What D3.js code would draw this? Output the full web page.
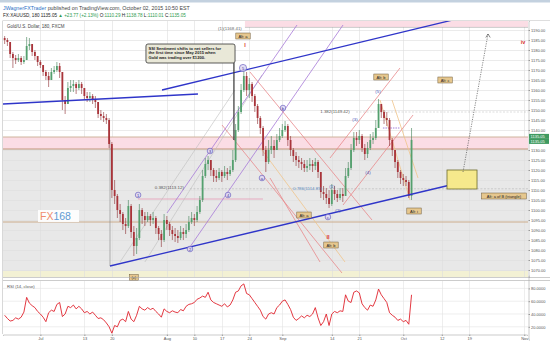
<!DOCTYPE html>
<html>
<head>
<meta charset="utf-8">
<script src="https://cdn.jsdelivr.net/npm/d3@7"></script>
<style>
body { margin: 0; background: #fff; }
svg { display: block; font-family: "Liberation Sans", Arial, sans-serif; }
</style>
</head>
<body>
<div id="chart"></div>
<script>
// 12h candles, first one at day -6.5 (trading days, Jul 1 = 0)
var firstDay = -6.5, step = 0.5;

var closes = [1185,1184,1178,1176,1175,1176,1174,1175,1182,1183,
  1179,1177,1174,1172.5,1169,1167,1165,1169,1170,1172,
  1169,1155,1153,1161,1162,1163,1161,1163,1161,1157,
  1156,1157,1155,1154,1148,1147,1146,1145,1133,1110,
  1107,1100,1098,1093,1092,1102,1089,1082,1086,1100,
  1097,1095,1097,1095,1096,1091,1088,1085,1095,1093,
  1090,1088,1087,1086,1089,1088,1090,1094,1096,1095,
  1099,1105,1117,1123,1125,1120,1117,1116,1119,1117,
  1119,1118,1120,1125,1140,1149,1160,1167,1160,1163,
  1157,1152,1146,1141,1130,1124,1130,1132,1130,1135,
  1137,1140,1142,1135,1130,1127,1125,1124,1123,1121,
  1122,1123,1122,1124,1119,1109,1108,1106,1103,1110,
  1108,1106,1108,1107,1117,1121,1130,1136,1135,1137,
  1131,1128,1131,1135,1136,1141,1153,1149,1146,1145,
  1135,1130,1124,1119,1116,1115,1114,1107,1135.05];

var highs = [1187,1186,1181,1179,1177.5,1178,1177,1177,1186.5,1186,
  1182,1180,1177,1175,1172,1170,1169,1171,1172,1174,
  1173.5,1167,1157,1164,1165,1165,1164,1165,1164,1161,
  1159,1159,1158,1157,1153,1150,1149,1148,1146,1134,
  1115,1108,1103,1099,1096,1105,1103,1092,1091,1103,
  1101,1099,1099,1098,1099,1097,1092,1090,1098,1097,
  1094,1092,1091,1090,1092,1091,1093,1097,1099,1098,
  1102,1107,1120,1126,1127,1125,1121,1120,1121,1120,
  1122,1121,1122,1130,1143,1152,1163,1170,1169,1166,
  1164,1158,1153,1147,1142,1132,1135,1137,1135,1138,
  1141,1143,1144.5,1143,1137,1131,1129,1127,1126,1125,
  1125,1126,1125,1126,1125,1119,1112,1111,1110,1113,
  1112,1110,1111,1111,1121,1124,1133,1139,1139,1140,
  1138,1133,1134,1138,1139,1145,1155.5,1153,1150,1149,
  1146,1136,1130,1125,1120,1118,1117,1115,1141];

var lows = [1183,1182,1176,1171,1173,1174,1172.5,1173,1175,1180,
  1177,1175,1172,1171,1167,1165,1161.5,1166,1168,1169,
  1166,1150,1148,1155,1159,1159,1158,1160,1158,1155,
  1154,1154,1153,1151,1146,1145,1144,1143,1131,1106,
  1103,1096,1094,1090,1088,1091,1086,1077,1078,1085,
  1093,1092,1094,1092,1093,1088,1085,1081.5,1084,1090,
  1087,1085,1084,1083.5,1085,1085,1086,1089,1093,1092,
  1094,1098,1104,1116,1120,1117,1114,1114,1115,1114,
  1116,1115,1117,1119,1124,1139,1148,1159,1157,1156,
  1154,1149,1143,1138,1127,1119,1123,1128,1126,1130,
  1134,1136,1139,1132,1127,1124,1122,1121,1120,1119,
  1119,1120,1119,1120,1116,1106,1105,1103,1101,1102,
  1105,1104,1105,1104,1107,1116,1120,1129,1132,1133,
  1129,1125,1126,1130,1133,1135,1141,1146,1143,1142,
  1132,1127,1121,1116,1113,1112,1112,1106,1105];

var rsi = [38,33,29,30,34,32,35,43,66,57,
  53,50,44,40,35,28,42,46,44,55,
  58,36,40,52,50,54,48,52,48,42,
  44,40,43,38,33,34,31,26,20,10,
  22,20,30,32,28,44,32,28,38,52,
  48,46,50,47,49,44,40,35,48,44,
  42,45,43,42,47,45,52,55,56,58,
  63,65,68,66,74,62,58,56,54,52,
  56,51,54,62,74,76,84,87,72,70,
  64,58,52,46,36,32,40,42,40,50,
  54,60,62,55,47,35,30,33,37,34,
  38,36,40,50,34,22,28,40,22,40,
  44,42,45,44,70,60,58,74,76,73,
  56,50,46,54,52,62,79,70,64,58,
  42,38,35,30,32,28,30,24,70];

var priceTicks = d3.range(1070, 1191, 5);
var timeDays = [0, 8, 13, 23, 28, 33, 38, 44, 53, 58, 66, 73, 78, 88];
var timeLabels = ['Jul', '13', '20', 'Aug', '10', '17', '24', 'Sep', '14', '21', 'Oct', '12', '19', 'Nov'];
var rsiTicks = [20, 40, 60, 80];

// drawings, as [day, price] pairs
var blueLines = [
  [[-6.8, 1153], [28.66, 1158]],
  [[22.12, 1160], [81.78, 1199.5]],
  [[12.66, 1072], [77.59, 1114.5]]
];
var purpleLines = [
  [[23.03, 1098.5], [46.67, 1192.5]],
  [[27.2, 1081.5], [55.04, 1192.5]]
];
var grayLines = [
  [[14.48, 1074], [35.39, 1160]],
  [[19.0, 1074], [40.3, 1167.5]]
];
var salmonLines = [
  [[38.12, 1169], [60.31, 1095]],
  [[33.03, 1142.5], [54.85, 1068.5]],
  [[41.76, 1116], [50.86, 1074]],
  [[52.67, 1126], [65.4, 1171]],
  [[55.04, 1102.5], [67.77, 1147.5]]
];
var tanLines = [
  [[61.77, 1155], [67.22, 1105]],
  [[63.95, 1155], [68.68, 1116]],
  [[40.31, 1130], [55.4, 1074]]
];
var waveCircles = [
  {d: 17.77, p: 1107.5, t: '1'}, {d: 27.21, p: 1080.5, t: '2'},
  {d: 30.85, p: 1129.5, t: '3'}, {d: 34.12, p: 1107.5, t: '4'},
  {d: 36.85, p: 1171, t: '5'}, {d: 40.3, p: 1116, t: 'a'},
  {d: 44.12, p: 1151, t: 'b'}, {d: 52.3, p: 1096.5, t: 'c'}
];
var waveTexts = [
  {d: 53.03, p: 1112, t: '(1)'}, {d: 54.12, p: 1100, t: '(2)'},
  {d: 57.22, p: 1145.5, t: '(3)'}, {d: 59.58, p: 1119, t: '(4)'},
  {d: 61.4, p: 1159.5, t: '(5)'}
];
var tags = [
  {d: 36.85, p: 1187, t: 'Alt: a'}, {d: 61.95, p: 1166.5, t: 'Alt: b'},
  {d: 73.6, p: 1165, t: 'Alt: c'}, {d: 84.3, p: 1107, t: 'Alt: a of B (triangle)'},
  {d: 67.95, p: 1099.5, t: 'Alt: i'}, {d: 47.94, p: 1097.5, t: 'Alt: a'},
  {d: 52.85, p: 1082.5, t: 'Alt: b'}, {d: 17.0, p: 1066.2, t: '(v)'}
];
var romans = [
  {d: 37.2, p: 1182.5, t: 'I'}, {d: 52.3, p: 1086.5, t: 'II'}, {d: 87.77, p: 1184, t: 'iv'}
];

var width = 550, height = 344;
var pane = {left: 3, right: 528, top: 21, bottom: 277};
var rsiPane = {top: 281, bottom: 334};

var svg = d3.select('#chart').append('svg')
  .attr('width', width)
  .attr('height', height);

var x = d3.scaleLinear().domain([-6.8, 88.5]).range([3, 527]);
var y = d3.scaleLinear().domain([1066.5, 1194.5]).range([277, 21]);
var yR = d3.scaleLinear().domain([0, 100]).range([339.6, 275.6]);

svg.append('rect').attr('width', width).attr('height', height).attr('fill', '#fff');
svg.append('rect').attr('width', width).attr('height', 2.5).attr('fill', '#c3d1df');

// clip paths
var defs = svg.append('defs');
defs.append('clipPath').attr('id', 'clipMain').append('rect')
  .attr('x', pane.left).attr('y', pane.top)
  .attr('width', pane.right - pane.left).attr('height', pane.bottom - pane.top);
defs.append('clipPath').attr('id', 'clipRsi').append('rect')
  .attr('x', pane.left).attr('y', rsiPane.top)
  .attr('width', pane.right - pane.left).attr('height', rsiPane.bottom - rsiPane.top);

var main = svg.append('g').attr('clip-path', 'url(#clipMain)');

// zones
main.append('rect')
  .attr('x', pane.left).attr('width', pane.right - pane.left)
  .attr('y', y(1130.5)).attr('height', pane.bottom - y(1130.5))
  .attr('fill', '#e8e8e8');
main.append('rect')
  .attr('x', pane.left).attr('width', pane.right - pane.left)
  .attr('y', y(1069.5)).attr('height', pane.bottom - y(1069.5))
  .attr('fill', '#f3f1d4');

// grid
main.selectAll('.hgrid').data(priceTicks).enter().append('line')
  .attr('class', 'hgrid')
  .attr('x1', pane.left).attr('x2', pane.right)
  .attr('y1', function (d) { return Math.round(y(d)) + 0.5; })
  .attr('y2', function (d) { return Math.round(y(d)) + 0.5; })
  .attr('stroke', '#dedede').attr('stroke-width', 0.6);
main.selectAll('.vgrid').data(timeDays).enter().append('line')
  .attr('class', 'vgrid')
  .attr('x1', function (d) { return Math.round(x(d)) + 0.5; })
  .attr('x2', function (d) { return Math.round(x(d)) + 0.5; })
  .attr('y1', pane.top).attr('y2', pane.bottom)
  .attr('stroke', '#dedede').attr('stroke-width', 0.6);

main.append('rect')
  .attr('x', pane.left).attr('width', pane.right - pane.left)
  .attr('y', y(1136.5)).attr('height', y(1130.5) - y(1136.5))
  .attr('fill', '#fbdde5');
main.append('rect')
  .attr('x', x(37.2)).attr('width', pane.right - x(37.2))
  .attr('y', pane.top).attr('height', y(1191.5) - pane.top)
  .attr('fill', '#fbdde5');

// horizontal levels
[[1136.5, '#c9ad92'], [1130.5, '#b98c6c'], [1094, '#c9a784']].forEach(function (l) {
  main.append('line')
    .attr('x1', pane.left).attr('x2', pane.right)
    .attr('y1', y(l[0])).attr('y2', y(l[0]))
    .attr('stroke', l[1]).attr('stroke-width', 0.9);
});
main.append('line')
  .attr('x1', x(37.2)).attr('x2', pane.right)
  .attr('y1', y(1191.3)).attr('y2', y(1191.3))
  .attr('stroke', '#999').attr('stroke-width', 0.5);

// fib levels
main.append('line')
  .attr('x1', x(17.75)).attr('x2', x(40.48))
  .attr('y1', y(1105.5)).attr('y2', y(1105.5))
  .attr('stroke', '#e68fb0').attr('stroke-width', 0.7);
main.append('line')
  .attr('x1', x(27.2)).attr('x2', pane.right)
  .attr('y1', y(1110.6)).attr('y2', y(1110.6))
  .attr('stroke', '#aaa').attr('stroke-width', 0.5).attr('stroke-dasharray', '2,1.5');
main.append('line')
  .attr('x1', x(57.4)).attr('x2', pane.right)
  .attr('y1', y(1149)).attr('y2', y(1149))
  .attr('stroke', '#bbb').attr('stroke-width', 0.5).attr('stroke-dasharray', '2,1.5');

var line = d3.line()
  .x(function (d) { return x(d[0]); })
  .y(function (d) { return y(d[1]); });

function drawLines(list, color, w) {
  main.selectAll(null).data(list).enter().append('path')
    .attr('d', line)
    .attr('fill', 'none')
    .attr('stroke', color)
    .attr('stroke-width', w);
}
drawLines(grayLines, '#bdbdbd', 0.6);
drawLines(tanLines, '#f0c48a', 0.8);
drawLines(salmonLines, '#e8898c', 0.8);
drawLines(purpleLines, '#a77ad8', 0.8);

// vertical marker line
main.append('line')
  .attr('x1', x(12.66)).attr('x2', x(12.66))
  .attr('y1', y(1135)).attr('y2', y(1072))
  .attr('stroke', '#888').attr('stroke-width', 0.6);

// purple dashed segment near the last top
main.append('line')
  .attr('x1', x(62.3)).attr('x2', x(65.3))
  .attr('y1', y(1141)).attr('y2', y(1141))
  .attr('stroke', '#8a5fd0').attr('stroke-width', 0.8).attr('stroke-dasharray', '1.5,1');

// candles
var candles = closes.map(function (c, i) {
  var o = i === 0 ? 1186 : closes[i - 1];
  return {
    d: firstDay + i * step, o: o, c: c,
    h: Math.max(highs[i], o, c), l: Math.min(lows[i], o, c)
  };
});

main.selectAll('.wick').data(candles).enter().append('line')
  .attr('class', 'wick')
  .attr('x1', function (d) { return x(d.d); })
  .attr('x2', function (d) { return x(d.d); })
  .attr('y1', function (d) { return y(d.h); })
  .attr('y2', function (d) { return y(d.l); })
  .attr('stroke', function (d) { return d.c >= d.o ? '#3f7f55' : '#8c2b2f'; })
  .attr('stroke-width', 0.6);

main.selectAll('.body').data(candles).enter().append('rect')
  .attr('class', 'body')
  .attr('x', function (d) { return x(d.d) - 0.9; })
  .attr('width', 1.8)
  .attr('y', function (d) { return y(Math.max(d.o, d.c)); })
  .attr('height', function (d) { return Math.max(0.6, Math.abs(y(d.o) - y(d.c))); })
  .attr('fill', function (d) { return d.c >= d.o ? '#54a06e' : '#a9343a'; });

drawLines(blueLines, '#2f35c9', 1.3);

// yellow target box + projection
main.append('rect')
  .attr('x', x(73.95)).attr('width', x(79.41) - x(73.95))
  .attr('y', y(1120)).attr('height', y(1110.5) - y(1120))
  .attr('fill', '#f6e98c').attr('stroke', '#6d6a2c').attr('stroke-width', 0.8);
main.append('line')
  .attr('x1', x(76.86)).attr('y1', y(1119))
  .attr('x2', x(81.41)).attr('y2', y(1188))
  .attr('stroke', '#555').attr('stroke-width', 0.7).attr('stroke-dasharray', '1.2,1.2');
main.append('path')
  .attr('d', 'M' + (x(81.41) - 2.2) + ',' + (y(1188) + 3.5) + 'L' + x(81.41) + ',' + y(1188) + 'L' + (x(81.41) + 2.2) + ',' + (y(1188) + 3.5))
  .attr('fill', 'none').attr('stroke', '#555').attr('stroke-width', 0.7);

// callout
main.append('line')
  .attr('x1', x(35.2)).attr('x2', x(35.2))
  .attr('y1', y(1173.5)).attr('y2', y(1135))
  .attr('stroke', '#333').attr('stroke-width', 1.2);
main.append('rect')
  .attr('x', x(19.2)).attr('y', y(1183))
  .attr('width', x(35.4) - x(19.2)).attr('height', y(1173.5) - y(1183))
  .attr('rx', 2)
  .attr('fill', '#e9e8d8').attr('stroke', '#333').attr('stroke-width', 0.8);
var callout = main.append('text')
  .attr('x', x(19.2) + 2.5).attr('y', y(1183) + 5.5)
  .attr('font-size', 4.1).attr('font-weight', 'bold').attr('fill', '#222');
['SSI Sentiment shifts to net sellers for', 'the first time since May 2015 when', 'Gold was trading over $1200.']
  .forEach(function (t, i) {
    callout.append('tspan').attr('x', x(19.2) + 2.5).attr('dy', i === 0 ? 0 : 4.7).text(t);
  });

// fib texts
main.append('text').attr('x', x(20.8)).attr('y', y(1110.6) + 0.5)
  .attr('font-size', 4.4).attr('fill', '#555').text('0.382(1113.12)');
main.append('text').attr('x', x(45.94)).attr('y', y(1111) + 1.5)
  .attr('font-size', 4.4).attr('fill', '#5d8fc4').text('0.786(1114.85)');
main.append('text').attr('x', x(50.9)).attr('y', y(1149.5) + 1.5)
  .attr('font-size', 4.4).attr('fill', '#555').text('1.382(1149.42)');
main.append('text').attr('x', x(32.3)).attr('y', y(1191) + 1.5)
  .attr('font-size', 4.4).attr('fill', '#666').text('(1)(1168.41)');

// wave markers
var wc = main.selectAll('.wc').data(waveCircles).enter().append('g')
  .attr('transform', function (d) { return 'translate(' + x(d.d) + ',' + y(d.p) + ')'; });
wc.append('circle')
  .attr('r', function (d) { return d.t === '5' ? 3.6 : 2.8; })
  .attr('fill', '#dcd6f3').attr('fill-opacity', 0.8)
  .attr('stroke', '#5a4fb8').attr('stroke-width', 0.6);
wc.append('text').attr('text-anchor', 'middle').attr('dy', 1.5)
  .attr('font-size', 4).attr('fill', '#3a3290').text(function (d) { return d.t; });

main.selectAll('.wt').data(waveTexts).enter().append('text')
  .attr('x', function (d) { return x(d.d); })
  .attr('y', function (d) { return y(d.p) + 1.5; })
  .attr('text-anchor', 'middle')
  .attr('font-size', 4.4).attr('fill', '#4a56b8')
  .text(function (d) { return d.t; });

main.selectAll('.roman').data(romans).enter().append('text')
  .attr('x', function (d) { return x(d.d); })
  .attr('y', function (d) { return y(d.p) + 2; })
  .attr('text-anchor', 'middle')
  .attr('font-size', 5.5).attr('font-weight', 'bold').attr('fill', '#d8342f')
  .text(function (d) { return d.t; });

// FX168 watermark
var wm = main.append('g');
wm.append('rect').attr('x', 38).attr('y', 210).attr('width', 41).attr('height', 12)
  .attr('fill', '#fff').attr('fill-opacity', 0.9);
var wmt = wm.append('text').attr('x', 40).attr('y', 220).attr('font-size', 10.5);
wmt.append('tspan').attr('fill', '#f08c6c').text('FX');
wmt.append('tspan').attr('fill', '#5d9ad3').text('168');

// tags (drawn unclipped so the bottom one can sit on the separator)
var tg = svg.selectAll('.tag').data(tags).enter().append('g')
  .attr('transform', function (d) { return 'translate(' + x(d.d) + ',' + y(d.p) + ')'; });
tg.append('rect')
  .attr('x', function (d) { return -(d.t.length * 1.9 + 3) / 2; })
  .attr('y', -3)
  .attr('width', function (d) { return d.t.length * 1.9 + 3; })
  .attr('height', 6)
  .attr('fill', '#e6c78e').attr('stroke', '#6e5a38').attr('stroke-width', 0.5);
tg.append('text').attr('text-anchor', 'middle').attr('dy', 1.5)
  .attr('font-size', 4).attr('fill', '#222').text(function (d) { return d.t; });

// legend
svg.append('text').attr('x', 7).attr('y', 27.5)
  .attr('font-size', 4.5).attr('fill', '#444').text('Gold/U.S. Dollar, 180, FXCM');

// RSI pane
svg.selectAll('.rgrid').data(rsiTicks).enter().append('line')
  .attr('x1', pane.left).attr('x2', pane.right)
  .attr('y1', function (d) { return yR(d); })
  .attr('y2', function (d) { return yR(d); })
  .attr('stroke', '#e2e2e2').attr('stroke-width', 0.6);
svg.selectAll('.rvgrid').data(timeDays).enter().append('line')
  .attr('x1', function (d) { return Math.round(x(d)) + 0.5; })
  .attr('x2', function (d) { return Math.round(x(d)) + 0.5; })
  .attr('y1', rsiPane.top).attr('y2', rsiPane.bottom)
  .attr('stroke', '#e2e2e2').attr('stroke-width', 0.6);

var rsiLine = d3.line()
  .x(function (d, i) { return x(firstDay + i * step); })
  .y(function (d) { return yR(d); });
svg.append('g').attr('clip-path', 'url(#clipRsi)').append('path')
  .datum(rsi)
  .attr('d', rsiLine)
  .attr('fill', 'none')
  .attr('stroke', '#e0232c')
  .attr('stroke-width', 0.9);
svg.append('text').attr('x', 7).attr('y', 287.5)
  .attr('font-size', 4.2).attr('fill', '#555').text('RSI (14, close)');

// frames
svg.append('line').attr('x1', pane.left).attr('x2', width).attr('y1', 20.5).attr('y2', 20.5)
  .attr('stroke', '#c8c8c8').attr('stroke-width', 0.6);
svg.append('line').attr('x1', 2.5).attr('x2', 2.5).attr('y1', 20.5).attr('y2', 334)
  .attr('stroke', '#bdbdbd').attr('stroke-width', 0.6);
svg.append('line').attr('x1', pane.left).attr('x2', width).attr('y1', 277.5).attr('y2', 277.5)
  .attr('stroke', '#aaa').attr('stroke-width', 0.6);
svg.append('line').attr('x1', pane.left).attr('x2', width).attr('y1', 280.5).attr('y2', 280.5)
  .attr('stroke', '#aaa').attr('stroke-width', 0.6);

// axes
var priceAxis = d3.axisRight(y)
  .tickValues(priceTicks.filter(function (d) { return d !== 1135; }))
  .tickFormat(d3.format('.2f'))
  .tickSize(1.5);
var gp = svg.append('g').attr('transform', 'translate(' + (pane.right + 0.5) + ',0)').call(priceAxis);

var rsiAxis = d3.axisRight(yR).tickValues(rsiTicks).tickFormat(d3.format('.4f')).tickSize(1.5);
var gr = svg.append('g').attr('transform', 'translate(' + (pane.right + 0.5) + ',0)').call(rsiAxis);

var timeAxis = d3.axisBottom(x)
  .tickValues(timeDays)
  .tickFormat(function (d, i) { return timeLabels[i]; })
  .tickSize(1.5);
var gt = svg.append('g').attr('transform', 'translate(0,' + (rsiPane.bottom + 0.5) + ')').call(timeAxis);

[gp, gr, gt].forEach(function (g) {
  g.selectAll('text').attr('font-size', 4).attr('fill', '#555').attr('font-family', '"Liberation Sans", Arial, sans-serif');
  g.selectAll('line').attr('stroke', '#999');
  g.select('.domain').attr('stroke', '#aaa').attr('stroke-width', 0.6);
});
gp.selectAll('text').attr('x', 2.5);
gr.selectAll('text').attr('x', 2.5);
gt.selectAll('text').attr('y', 3);

// last price labels
[[1135.05, -3.5], [1135.05, 1.5]].forEach(function (l) {
  svg.append('rect').attr('x', pane.right + 1).attr('y', y(l[0]) + l[1] - 2.5)
    .attr('width', 20).attr('height', 5).attr('fill', '#3f9a60');
  svg.append('text').attr('x', pane.right + 2.5).attr('y', y(l[0]) + l[1] + 1.4)
    .attr('font-size', 4).attr('fill', '#fff').text(d3.format('.2f')(l[0]));
});

// header
var t1 = svg.append('text').attr('x', 3).attr('y', 9.5).attr('font-size', 5.3);
t1.append('tspan').attr('fill', '#2b6fc6').text('JWagnerFXTrader');
t1.append('tspan').attr('fill', '#444').text(' published on TradingView.com, October 02, 2015 10:50 EST');

var t2 = svg.append('text').attr('x', 3).attr('y', 16.5).attr('font-size', 4.6);
t2.append('tspan').attr('fill', '#222').text('FX:XAUUSD, 180  1135.05 ');
t2.append('tspan').attr('fill', '#2e9a4e').text('\u25B2 +23.77 (+2.13%) ');
[['O:', '1110.29'], ['H:', '1138.78'], ['L:', '1110.01'], ['C:', '1135.05']].forEach(function (p) {
  t2.append('tspan').attr('fill', '#222').text(p[0]);
  t2.append('tspan').attr('fill', '#2e9a4e').text(p[1] + ' ');
});
</script>
</body>
</html>
